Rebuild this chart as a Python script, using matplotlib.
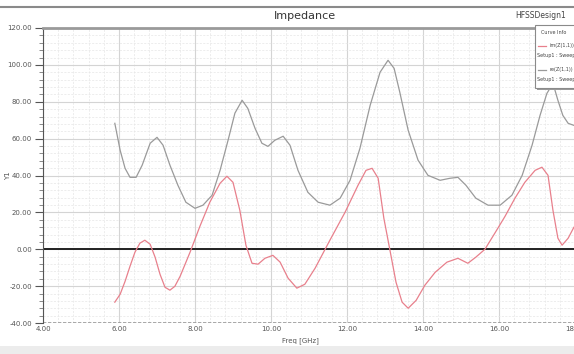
import numpy as np
import matplotlib
matplotlib.use("Agg")
import matplotlib.pyplot as plt
from matplotlib.ticker import MultipleLocator, FormatStrFormatter
from matplotlib.patches import Rectangle
from matplotlib.lines import Line2D

# values (Freq in GHz, Y1)
freq_im = [5.89, 6.03, 6.16, 6.29, 6.42, 6.55, 6.68, 6.82, 6.95, 7.08, 7.21, 7.34, 7.47,
           7.61, 7.87, 8.13, 8.39, 8.66, 8.84, 9.0, 9.18, 9.34, 9.5, 9.66, 9.84, 10.05,
           10.24, 10.45, 10.68, 10.89, 11.16, 11.55, 11.95, 12.29, 12.5, 12.66, 12.82,
           12.97, 13.13, 13.29, 13.45, 13.61, 13.82, 14.05, 14.32, 14.63, 14.92, 15.18,
           15.39, 15.63, 15.89, 16.16, 16.42, 16.68, 16.95, 17.13, 17.29, 17.42, 17.55,
           17.66, 17.82, 17.97]
im_z = [-28.7, -24.4, -17.4, -9.2, -1.6, 3.3, 4.9, 2.7, -4.3, -13.6, -20.6, -22.2,
        -20.1, -14.6, -1.6, 12.5, 25.5, 35.8, 39.6, 36.3, 21.1, 2.2, -7.6, -8.1, -4.9,
        -3.3, -7.0, -15.7, -21.1, -19.0, -10.3, 4.9, 20.1, 34.7, 42.8, 43.9, 38.5, 16.8,
        -0.5, -17.9, -28.7, -32.0, -27.7, -19.5, -12.5, -7.0, -4.9, -7.6, -4.3, 0.0,
        8.7, 17.9, 27.7, 36.3, 42.8, 44.5, 40.1, 21.1, 6.0, 2.2, 6.0, 11.9]

freq_re = [5.89, 6.03, 6.16, 6.29, 6.45, 6.61, 6.82, 7.0, 7.16, 7.34, 7.55, 7.76, 8.0,
           8.21, 8.45, 8.66, 8.87, 9.05, 9.24, 9.39, 9.58, 9.76, 9.92, 10.1, 10.32, 10.5,
           10.71, 10.97, 11.24, 11.55, 11.82, 12.08, 12.34, 12.61, 12.87, 13.08, 13.24,
           13.39, 13.61, 13.87, 14.13, 14.45, 14.71, 14.92, 15.13, 15.39, 15.71, 16.03,
           16.34, 16.61, 16.87, 17.08, 17.26, 17.42, 17.55, 17.68, 17.82, 17.97]
re_z = [68.3, 53.7, 43.9, 39.0, 39.0, 45.6, 57.5, 60.7, 56.4, 45.6, 34.7, 25.5, 22.2,
        23.9, 29.3, 42.8, 59.1, 73.8, 80.8, 76.4, 65.6, 57.5, 55.8, 59.1, 61.3, 56.4,
        42.8, 30.9, 25.5, 23.9, 27.7, 37.4, 54.7, 78.1, 96.0, 102.5, 98.1, 85.1, 64.5,
        48.3, 40.1, 37.4, 38.5, 39.0, 34.7, 27.7, 23.9, 23.9, 29.3, 40.1, 56.4, 72.6,
        84.5, 90.0, 80.8, 72.6, 68.3, 67.2]

W, H = 574, 354
fig = plt.figure(figsize=(W / 100, H / 100), dpi=100)
fig.patch.set_facecolor("white")

# band at the bottom and line at the top like the HFSS window
fig.add_artist(Rectangle((0, 0), 1, 8 / H, transform=fig.transFigure,
                         facecolor="#ececec", edgecolor="none"))
fig.add_artist(Line2D([0, 1], [1 - 7 / H, 1 - 7 / H], transform=fig.transFigure,
                      color="#8a8a8a", lw=1.5))

ax = fig.add_axes([43 / W, 31 / H, 547 / W, 295 / H])
ax.set_xlim(4, 4 + 547 / 38)
ax.set_ylim(-40, 120)

ax.xaxis.set_major_locator(MultipleLocator(2))
ax.xaxis.set_minor_locator(MultipleLocator(0.4))
ax.yaxis.set_major_locator(MultipleLocator(20))
ax.yaxis.set_minor_locator(MultipleLocator(4))
ax.xaxis.set_major_formatter(FormatStrFormatter("%.2f"))
ax.yaxis.set_major_formatter(FormatStrFormatter("%.2f"))

ax.grid(which="major", color="#d4d4d4", lw=0.8)
ax.grid(which="minor", color="#e6e6e6", lw=0.5, ls=(0, (3, 2)))
ax.set_axisbelow(True)

for s in ["right", "bottom"]:
    ax.spines[s].set_visible(False)
ax.spines["top"].set_color("#9a9a9a")
ax.spines["top"].set_linewidth(2)
ax.spines["left"].set_color("#555555")
ax.spines["left"].set_linewidth(0.8)
ax.axhline(-40, color="#9a9a9a", lw=1.2, ls=(0, (2, 1)))

ax.tick_params(which="major", length=6, width=0.8, color="#555555",
               labelsize=5, labelcolor="#555555", pad=2)
ax.tick_params(which="minor", length=3, width=0.6, color="#777777")
ax.tick_params(axis="x", which="both", length=0)

ax.axhline(0, color="#222222", lw=1.4)

ax.plot(freq_re, re_z, color="#9a9a9a", lw=0.9)
ax.plot(freq_im, im_z, color="#e8808c", lw=0.9)

ax.set_ylabel("Y1", fontsize=5, color="#555555")
ax.yaxis.set_label_coords(-(43 - 11) / 547, 0.5)
ax.set_xlabel("Freq [GHz]", fontsize=5, color="#555555", labelpad=3)
ax.xaxis.set_label_coords((300 - 43) / 547, -0.05)

fig.text(305 / W, 1 - 16 / H, "Impedance", fontsize=8, color="#333333",
         ha="center", va="center")
fig.text(541 / W, 1 - 16 / H, "HFSSDesign1", fontsize=5.5, color="#444444",
         ha="center", va="center")

# legend box (Curve Info)
fig.add_artist(Rectangle((537 / W, 1 - 90 / H), 40 / W, 63 / H, transform=fig.transFigure,
                         facecolor="#9a9a9a", edgecolor="none", zorder=9))
fig.add_artist(Rectangle((535 / W, 1 - 88 / H), 42 / W, 63 / H, transform=fig.transFigure,
                         facecolor="white", edgecolor="#8a8a8a", lw=0.8, zorder=10))
fig.text(554 / W, 1 - 33 / H, "Curve Info", fontsize=3.5, color="#444444",
         ha="center", va="center", zorder=11)
fig.add_artist(Line2D([538 / W, 546 / W], [1 - 46 / H, 1 - 46 / H], transform=fig.transFigure,
                      color="#e8808c", lw=0.9, zorder=11))
fig.text(549 / W, 1 - 46 / H, "im(Z(1,1))", fontsize=3.5, color="#444444",
         va="center", zorder=11)
fig.text(537 / W, 1 - 56 / H, "Setup1 : Sweep", fontsize=3.5, color="#444444",
         va="center", zorder=11)
fig.add_artist(Line2D([538 / W, 546 / W], [1 - 70 / H, 1 - 70 / H], transform=fig.transFigure,
                      color="#9a9a9a", lw=0.9, zorder=11))
fig.text(549 / W, 1 - 70 / H, "re(Z(1,1))", fontsize=3.5, color="#444444",
         va="center", zorder=11)
fig.text(537 / W, 1 - 80 / H, "Setup1 : Sweep", fontsize=3.5, color="#444444",
         va="center", zorder=11)

fig.savefig("out.png", dpi=100)
